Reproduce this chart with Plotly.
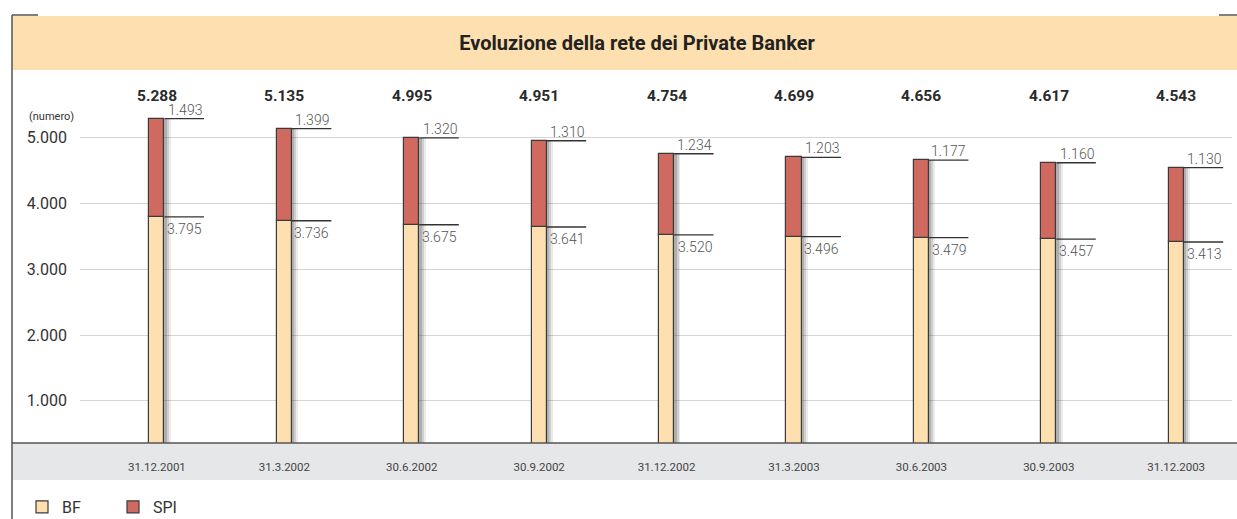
import plotly.graph_objects as go

# ---- data ----
categories = ["31.12.2001", "31.3.2002", "30.6.2002", "30.9.2002", "31.12.2002",
              "31.3.2003", "30.6.2003", "30.9.2003", "31.12.2003"]
bf = [3795, 3736, 3675, 3641, 3520, 3496, 3479, 3457, 3413]
spi = [1493, 1399, 1320, 1310, 1234, 1203, 1177, 1160, 1130]
ytick_vals = [1000, 2000, 3000, 4000, 5000]
title_text = "Evoluzione della rete dei Private Banker"
unit_text = "(numero)"

totals = [b + s for b, s in zip(bf, spi)]


def it(v):
    return f"{v:,}".replace(",", ".")


# ---- geometry (page pixel coords; body margin removed by post_script) ----
W, H = 1237, 519
L, R, T, B = 80, 1232, 75, 443  # plot area in page coords


def xp(px):
    return (px - L) / (R - L)


def yp(py):
    return (B - py) / (B - T)


FONT = "Roboto, 'Liberation Sans', sans-serif"
BF_COL = "#FDDFB0"
SPI_COL = "#D06A60"
OUTLINE = "#3a3a3a"

xs = list(range(len(categories)))
bw = 0.118
half = bw / 2
line_end = 0.369

fig = go.Figure()

# soft shadows to the right of the bars
for off, op in [(0.05, 0.10), (0.035, 0.16), (0.02, 0.22)]:
    fig.add_trace(go.Bar(
        x=xs, y=totals, base=[0] * len(xs), width=bw, offset=-half + off,
        marker=dict(color=f"rgba(60,60,60,{op})", line=dict(width=0)),
        showlegend=False, hoverinfo="skip"))

fig.add_trace(go.Bar(
    x=xs, y=bf, base=[0] * len(xs), width=bw, offset=-half, name="BF",
    marker=dict(color=BF_COL, line=dict(color=OUTLINE, width=1.2))))
fig.add_trace(go.Bar(
    x=xs, y=spi, base=bf, width=bw, offset=-half, name="SPI",
    marker=dict(color=SPI_COL, line=dict(color=OUTLINE, width=1.2))))

# leader lines
lx, ly = [], []
for i in xs:
    for v in (bf[i], totals[i]):
        lx += [i + half, i + line_end, None]
        ly += [v, v, None]
fig.add_trace(go.Scatter(x=lx, y=ly, mode="lines",
                         line=dict(color="#333333", width=1.3),
                         showlegend=False, hoverinfo="skip"))

LBL = dict(family=FONT, size=14, color="#555555", weight=300)
annotations = []
for i in xs:
    annotations.append(dict(x=i + line_end, y=totals[i], xref="x", yref="y",
                            text=it(spi[i]), showarrow=False, xanchor="right",
                            yanchor="bottom", yshift=-1, font=LBL))
    annotations.append(dict(x=i + line_end, y=bf[i], xref="x", yref="y",
                            text=it(bf[i]), showarrow=False, xanchor="right",
                            yanchor="top", yshift=-2, font=LBL))
    annotations.append(dict(x=i, y=yp(96), xref="x", yref="paper",
                            text=f"<b>{it(totals[i])}</b>", showarrow=False,
                            xanchor="center", yanchor="middle",
                            font=dict(family=FONT, size=15.5, color="#2a2a2a")))

annotations.append(dict(x=xp(27), y=yp(116), xref="paper", yref="paper",
                        text=unit_text, showarrow=False, xanchor="left",
                        yanchor="middle",
                        font=dict(family=FONT, size=11, color="#333333")))

FRAME = dict(color="#555555", width=1.5)
shapes = [
    # header band
    dict(type="rect", xref="paper", yref="paper", x0=xp(12), x1=xp(1240),
         y0=yp(70), y1=yp(16), fillcolor="#FDDFB0", line=dict(width=0),
         layer="below"),
    # x-axis band
    dict(type="rect", xref="paper", yref="paper", x0=xp(12), x1=xp(1240),
         y0=yp(480), y1=yp(443), fillcolor="#E6E7E8", line=dict(width=0),
         layer="below"),
    # axis line
    dict(type="line", xref="paper", yref="paper", x0=xp(12), x1=xp(1240),
         y0=yp(443), y1=yp(443), line=FRAME),
    # frame corners
    dict(type="line", xref="paper", yref="paper", x0=xp(12), x1=xp(12),
         y0=yp(525), y1=yp(15), line=FRAME),
    dict(type="line", xref="paper", yref="paper", x0=xp(12), x1=xp(38),
         y0=yp(15), y1=yp(15), line=FRAME),
    dict(type="line", xref="paper", yref="paper", x0=xp(1219), x1=xp(1240),
         y0=yp(15), y1=yp(15), line=FRAME),
]

fig.update_layout(
    width=W, height=H,
    margin=dict(l=L, r=W - R, t=T, b=H - B, autoexpand=False),
    paper_bgcolor="white", plot_bgcolor="white",
    barmode="overlay", bargap=0,
    title=dict(text=f"<b>{title_text}</b>", x=637 / W, y=1 - 43 / H,
               xref="container", yref="container",
               xanchor="center", yanchor="middle",
               font=dict(family=FONT, size=20, color="#222222")),
    font=dict(family=FONT),
    xaxis=dict(range=[-0.604, 8.438], tickvals=xs, ticktext=categories,
               showgrid=False, zeroline=False, showline=False, ticks="",
               tickfont=dict(family=FONT, size=11.5, color="#444444"),
               ticklabelstandoff=15),
    yaxis=dict(range=[360, 5950], tickvals=ytick_vals,
               ticktext=[it(v) for v in ytick_vals],
               showgrid=True, gridcolor="#D5D5D5", gridwidth=1,
               zeroline=False, showline=False, ticks="",
               tickfont=dict(family=FONT, size=16, color="#333333"),
               ticklabelstandoff=12),
    legend=dict(orientation="h", x=xp(22), y=yp(507), xanchor="left",
                yanchor="middle", font=dict(family=FONT, size=16, color="#333333"),
                entrywidth=46, entrywidthmode="pixels", bgcolor="rgba(0,0,0,0)",
                traceorder="normal"),
    annotations=annotations,
    shapes=shapes,
)

fig.write_html(
    "out.html",
    config={"displayModeBar": False},
    post_script="document.body.style.margin='0';document.body.style.overflow='hidden';",
)
